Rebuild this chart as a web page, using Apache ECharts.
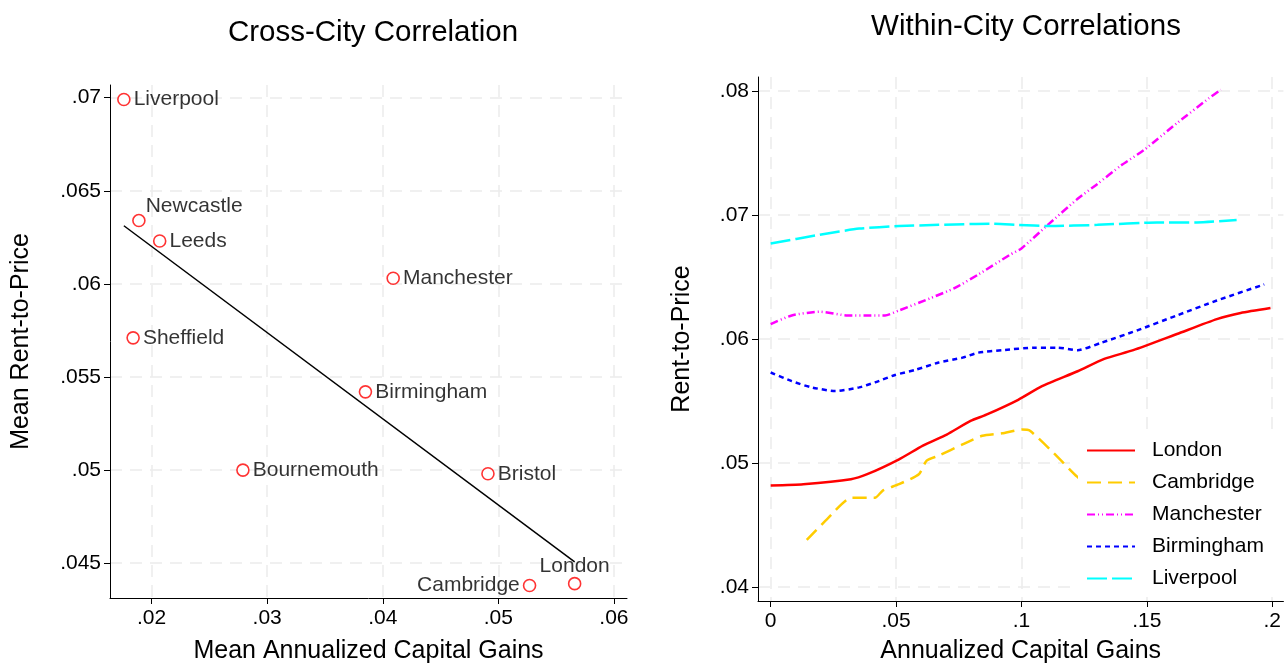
<!DOCTYPE html>
<html>
<head>
<meta charset="utf-8">
<script src="https://cdn.jsdelivr.net/npm/echarts@6/dist/echarts.min.js"></script>
<style>
html,body{margin:0;padding:0;background:#fff;}
#chart{width:1284px;height:669px;}
</style>
</head>
<body>
<div id="chart"></div>
<script>
// cross-city means
const cities = ['Liverpool','Newcastle','Leeds','Manchester','Sheffield','Birmingham','Bournemouth','Bristol','Cambridge','London'];
const meanGains = [0.0176,0.0189,0.0207,0.0409,0.0184,0.0385,0.0279,0.0491,0.0527,0.0566];
const meanRent  = [0.0699,0.0634,0.0623,0.0603,0.0571,0.0542,0.0500,0.0498,0.0438,0.0439];

// within-city curves, [capital gain, rent-to-price]
const london = [[0,.0482],[.013,.0483],[.032,.0487],[.0385,.0491],[.0512,.0503],[.0607,.0514],[.0702,.0523],[.0797,.0534],[.086,.0539],[.0987,.0551],[.1082,.0562],[.1224,.0574],[.133,.0584],[.1446,.0591],[.162,.0604],[.1779,.0616],[.1874,.0621],[.1993,.0625]];
const cambridge = [[.0144,.0438],[.0226,.0455],[.0321,.0472],[.0416,.0472],[.0448,.0478],[.0512,.0483],[.0591,.0491],[.0622,.0502],[.067,.0506],[.0765,.0515],[.0844,.0522],[.0923,.0524],[.1002,.0527],[.1034,.0526],[.1129,.0508],[.1222,.0489],[.128,.0480]];
const manchester = [[0,.0612],[.0084,.0619],[.0195,.0622],[.0306,.0619],[.0401,.0619],[.0456,.0619],[.0512,.0623],[.0638,.0633],[.0733,.0641],[.0828,.0652],[.0955,.0668],[.1,.0673],[.1105,.0692],[.1224,.0713],[.1303,.0725],[.1398,.074],[.1493,.0753],[.162,.0774],[.1747,.0794],[.1795,.0801]];
const birmingham = [[0,.0573],[.0084,.0566],[.0163,.0561],[.0258,.0558],[.0353,.0561],[.0416,.0565],[.0496,.0571],[.0575,.0575],[.067,.0581],[.0765,.0585],[.0828,.0589],[.0923,.0591],[.105,.0593],[.1145,.0593],[.1224,.0591],[.1319,.0597],[.1462,.0607],[.162,.0619],[.1779,.0631],[.1968,.0644]];
const liverpool = [[0,.0677],[.0195,.0684],[.0353,.0689],[.0512,.0691],[.067,.0692],[.0876,.0693],[.0987,.0692],[.1113,.0691],[.1303,.0692],[.1541,.0694],[.1699,.0694],[.1858,.0696]];

const crossXTicks = [0.02,0.03,0.04,0.05,0.06];
const crossYTicks = [0.045,0.05,0.055,0.06,0.065,0.07];
const withinXTicks = [0,0.05,0.1,0.15,0.2];
const withinYTicks = [0.04,0.05,0.06,0.07,0.08];

const FONT = 'Liberation Sans, Arial, sans-serif';

function fmt(v){
  let s = String(+(+v).toFixed(4));
  return s.replace(/^0\./,'.');
}

// ols fit of the city means
function fitLine(xs, ys){
  let n = xs.length, mx = 0, my = 0;
  for(let i=0;i<n;i++){ mx += xs[i]; my += ys[i]; }
  mx /= n; my /= n;
  let sxy = 0, sxx = 0;
  for(let i=0;i<n;i++){ sxy += (xs[i]-mx)*(ys[i]-my); sxx += (xs[i]-mx)*(xs[i]-mx); }
  let b = sxy/sxx, a = my - b*mx;
  let x0 = Math.min(...xs), x1 = Math.max(...xs);
  return [[x0, a+b*x0],[x1, a+b*x1]];
}

// where each city label sits
const labelPlace = {
  Newcastle: {position:'right', distance:0, offset:[0,-14]},
  London: {position:'top', distance:0},
  Cambridge: {position:'left', distance:3}
};

const scatterData = cities.map((c,i)=>{
  let lab = labelPlace[c] || {position:'right', distance:3};
  return {name:c, value:[meanGains[i], meanRent[i]], label:lab};
});

function valueAxis(gridIndex, min, max, ticks, name, nameGap, isY){
  return {
    type:'value', gridIndex, min, max, name,
    nameLocation:'middle', nameGap, nameRotate: isY ? 90 : 0,
    nameTextStyle:{fontFamily:FONT, fontSize:25, color:'#000'},
    axisLine:{show:true, onZero:false, lineStyle:{color:'#000', width:1}},
    axisTick:{show:true, length:6, customValues:ticks, lineStyle:{color:'#000'}},
    axisLabel:{customValues:ticks, formatter:fmt, fontFamily:FONT, fontSize:21, color:'#000', margin: isY ? 9 : 10},
    splitLine:{show:true, lineStyle:{color:'#ebebeb', width:1.5, type:[12,8]}}
  };
}

const lineStyleOf = (color, type) => ({color, width:2.5, type});

const chart = echarts.init(document.getElementById('chart'));
chart.setOption({
  animation:false,
  backgroundColor:'#fff',
  title:[
    {text:'Cross-City Correlation', left:368, top:13, textAlign:'center',
      textStyle:{fontFamily:FONT, fontSize:29.5, fontWeight:'normal', color:'#000'}},
    {text:'Within-City Correlations', left:1021, top:7, textAlign:'center',
      textStyle:{fontFamily:FONT, fontSize:29.5, fontWeight:'normal', color:'#000'}}
  ],
  grid:[
    {left:110, top:85, width:517, height:514},
    {left:758, top:77, width:526, height:529}
  ],
  xAxis:[
    valueAxis(0, 0.0164, 0.06113, crossXTicks, 'Mean Annualized Capital Gains', 41, false),
    valueAxis(1, -0.00505, 0.20446, withinXTicks, 'Annualized Capital Gains', 38, false)
  ],
  yAxis:[
    valueAxis(0, 0.04313, 0.07068, crossYTicks, 'Mean Rent-to-Price', 76, true),
    valueAxis(1, 0.03888, 0.08112, withinYTicks, 'Rent-to-Price', 63, true)
  ],
  legend:{
    data:['London','Cambridge','Manchester','Birmingham','Liverpool'],
    orient:'vertical', left:1078, top:432,
    backgroundColor:'#fff', padding:[8,30,4,8],
    itemWidth:48, itemHeight:20, itemGap:11,
    itemStyle:{opacity:0},
    textStyle:{fontFamily:FONT, fontSize:21, color:'#000', padding:[0,0,0,12]}
  },
  series:[
    {type:'line', name:'fit', xAxisIndex:0, yAxisIndex:0, data:fitLine(meanGains, meanRent),
      symbol:'none', lineStyle:{color:'#000', width:1.5}, z:2},
    {type:'scatter', name:'cities', xAxisIndex:0, yAxisIndex:0, data:scatterData,
      symbol:'circle', symbolSize:12,
      itemStyle:{color:'#fff', borderColor:'#ff0000', borderWidth:1.6},
      label:{show:true, formatter:'{b}', fontFamily:FONT, fontSize:21, color:'#000'}, z:3},
    {type:'line', name:'London', xAxisIndex:1, yAxisIndex:1, data:london, symbol:'none', smooth:0.2,
      lineStyle:lineStyleOf('#ff0000','solid'), itemStyle:{color:'#ff0000'}},
    {type:'line', name:'Cambridge', xAxisIndex:1, yAxisIndex:1, data:cambridge, symbol:'none', smooth:0.2,
      lineStyle:lineStyleOf('#ffcc00',[14,7]), itemStyle:{color:'#ffcc00'}},
    {type:'line', name:'Manchester', xAxisIndex:1, yAxisIndex:1, data:manchester, symbol:'none', smooth:0.2,
      lineStyle:lineStyleOf('#ff00ff',[8,3,1,3,1,3]), itemStyle:{color:'#ff00ff'}},
    {type:'line', name:'Birmingham', xAxisIndex:1, yAxisIndex:1, data:birmingham, symbol:'none', smooth:0.2,
      lineStyle:lineStyleOf('#0000ff',[5,4]), itemStyle:{color:'#0000ff'}},
    {type:'line', name:'Liverpool', xAxisIndex:1, yAxisIndex:1, data:liverpool, symbol:'none', smooth:0.2,
      lineStyle:lineStyleOf('#00ffff',[20,5]), itemStyle:{color:'#00ffff'}}
  ]
});
</script>
</body>
</html>
